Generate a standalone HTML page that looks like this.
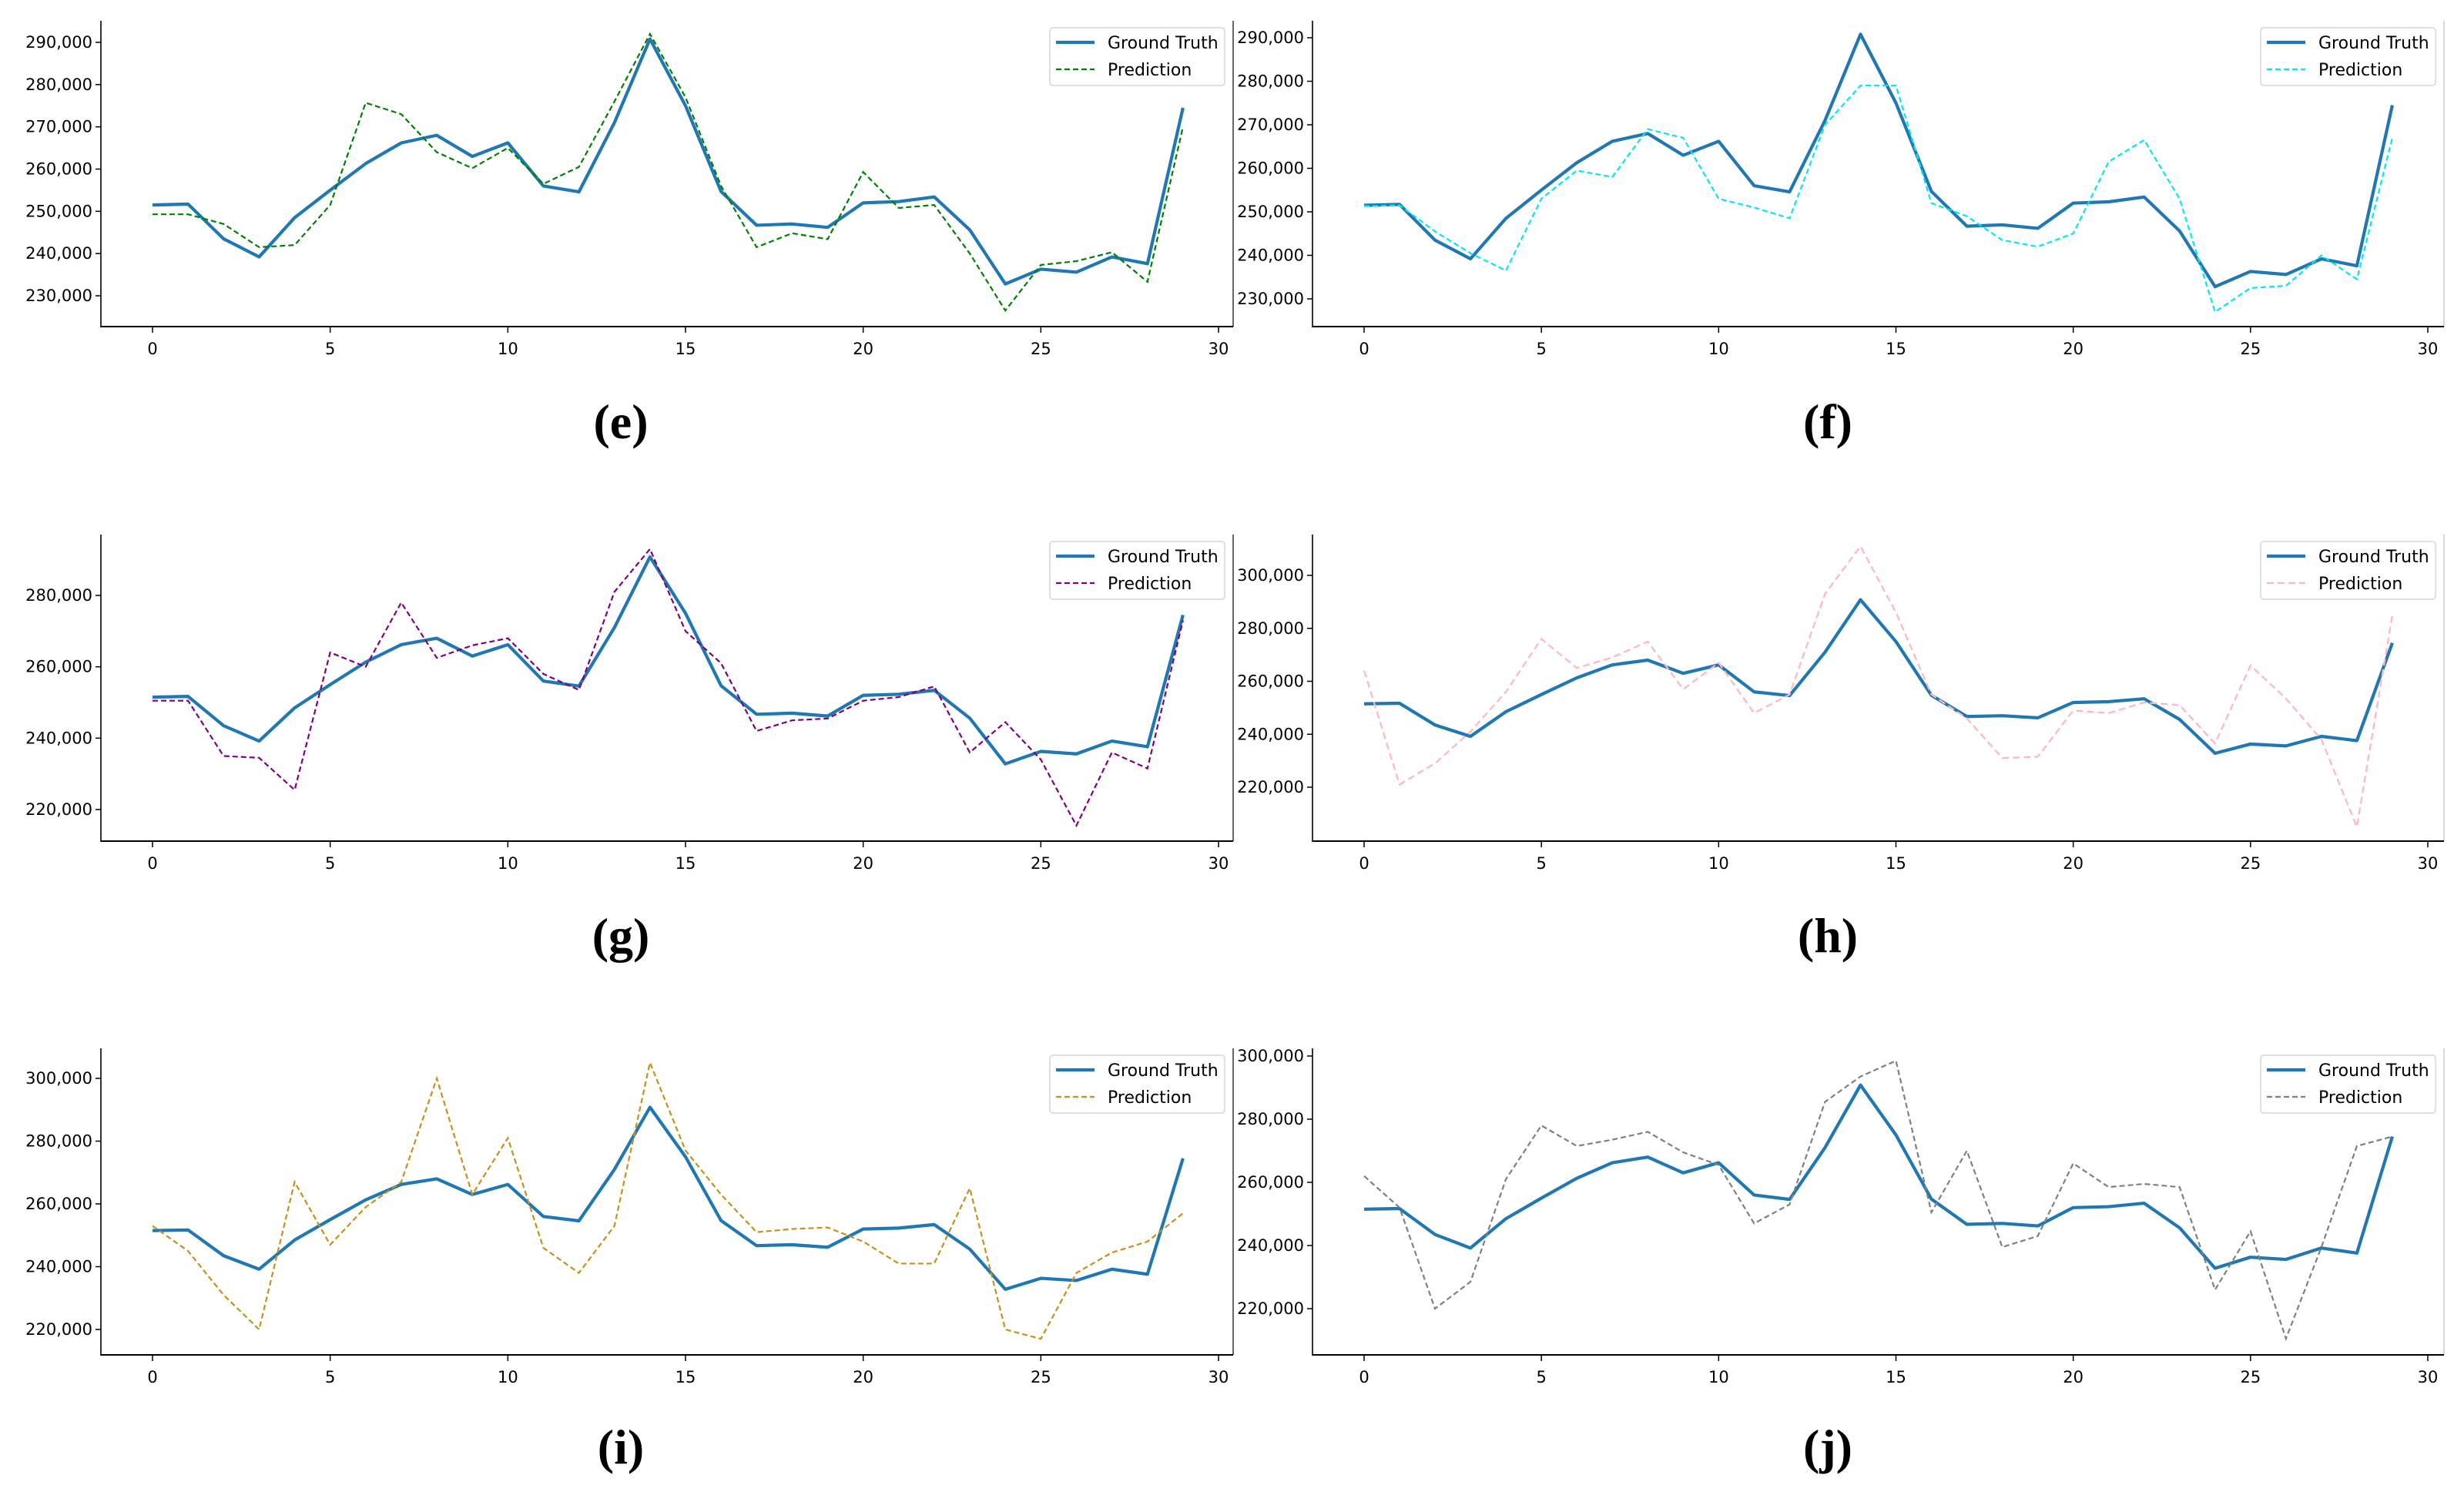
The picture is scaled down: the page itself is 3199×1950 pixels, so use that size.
<!DOCTYPE html>
<html><head><meta charset="utf-8">
<style>
html,body{margin:0;padding:0;background:#fff;}
svg{display:block;}
text{font-family:"DejaVu Sans","Liberation Sans",sans-serif;}
.lab{font-family:"Liberation Serif","DejaVu Serif",serif;font-weight:bold;font-size:64px;}
</style></head>
<body>
<svg id="chart" width="3199" height="1950" viewBox="0 0 3199 1950" xmlns="http://www.w3.org/2000/svg"></svg>
<script>
const xTicks = [0,5,10,15,20,25,30];
const groundTruth = [251.5,251.7,243.5,239.2,248.5,255,261.3,266.2,268,263,266.2,256,254.6,271,290.8,275,254.7,246.7,247,246.2,252,252.3,253.4,245.6,232.8,236.3,235.6,239.2,237.6,274.5];
const predE = [249.3,249.3,247,241.5,242,251.5,275.7,273,264,260.2,265,256.5,260.5,276,292,277,256,241.5,244.8,243.4,259.3,250.8,251.5,240,226.5,237.3,238.2,240.3,233.3,270];
const predF = [251.3,251.5,245.5,240.5,236.5,253,259.5,258,269,267,253,251,248.5,270,279,279,252,249,243.5,242,245,261.5,266.5,253,227,232.5,233,240,234.5,267];
const predG = [250.5,250.5,235,234.5,225.5,264,260,278,262.5,266,268,258,253.5,281,293,270,261,242,245,245.5,250.5,251.5,254.5,236,244.5,234,215.5,236,231.5,273];
const predH = [264,221,229,241,256,276,265,269,275,257,267,248,255,293,311,286,255,246,231,231.5,249,248,252,251,236.5,266,253.5,238,205,285];
const predI = [253,245,231,220,267,247,259,267,300,263,281,246,238,253,305,277,263,251,252,252.5,248,241,241,265,220,217,238,244.5,248,257];
const predJ = [262,252,220,228.5,261,278,271.5,273.5,276,269.5,265.5,247,253,285.5,293.5,298.5,250.5,270,239.5,243,266,258.5,259.5,258.5,226,244.5,210.5,239.5,271.5,274.5];
const ticksE = [230,240,250,260,270,280,290];
const ticksF = [230,240,250,260,270,280,290];
const ticksG = [220,240,260,280];
const ticksH = [220,240,260,280,300];
const ticksI = [220,240,260,280,300];
const ticksJ = [220,240,260,280,300];

const NS="http://www.w3.org/2000/svg";
const svg=document.getElementById('chart');
function mk(tag,attrs,parent){const e=document.createElementNS(NS,tag);for(const k in attrs)e.setAttribute(k,attrs[k]);(parent||svg).appendChild(e);return e;}

const panels=[
 {id:'e',pred:predE,ticks:ticksE,color:'#008000',dash:'7,4',col:0,row:0,t1:[290,55],t2:[230,384]},
 {id:'f',pred:predF,ticks:ticksF,color:'#00e8f0',dash:'7,4',col:1,row:0,t1:[290,49],t2:[230,388]},
 {id:'g',pred:predG,ticks:ticksG,color:'#800080',dash:'7,4',col:0,row:1,t1:[280,773],t2:[220,1051]},
 {id:'h',pred:predH,ticks:ticksH,color:'#ffb6c1',dash:'9,5',col:1,row:1,t1:[300,747],t2:[220,1022]},
 {id:'i',pred:predI,ticks:ticksI,color:'#c8901a',dash:'7,4',col:0,row:2,t1:[300,1400],t2:[220,1726]},
 {id:'j',pred:predJ,ticks:ticksJ,color:'#808080',dash:'7,4',col:1,row:2,t1:[300,1371],t2:[220,1699]}
];
const cols=[{spine:131,x0:198,x30:1582,right:1601,rc:'#333',lg:1363,labx:806},{spine:1704,x0:1771,x30:3152,right:3173,rc:'#ccc',lg:2935,labx:2373}];
const rows=[{top:27,bot:424,lab:547},{top:694,bot:1092,lab:1214},{top:1361,bot:1759,lab:1878}];

panels.forEach(p=>{
 const c=cols[p.col], r=rows[p.row], off=r.top-27;
 const g=mk('g',{});
 
 
 const xs=v=>c.x0+(c.x30-c.x0)*v/30;
 const ys=v=>p.t1[1]+(p.t2[1]-p.t1[1])*(v-p.t1[0])/(p.t2[0]-p.t1[0]);
 const rs=mk('line',{x1:c.right,y1:r.top,x2:c.right,y2:r.bot,stroke:c.rc,'stroke-width':1.5},g);
 
 
 const ls=mk('line',{x1:c.spine,y1:r.top,x2:c.spine,y2:r.bot+1,stroke:'#000','stroke-width':1.6},g);
 
 
 const bs=mk('line',{x1:c.spine,y1:r.bot,x2:c.right,y2:r.bot,stroke:'#000','stroke-width':2},g);
 
 
 xTicks.forEach(t=>{
  const x=xs(t);
  mk('line',{x1:x,y1:r.bot,x2:x,y2:r.bot+8,stroke:'#000','stroke-width':1.5},g);
  const tx=mk('text',{x:x,y:r.bot+36,'font-size':21,'text-anchor':'middle',fill:'#000'},g);
  tx.textContent=t;
  
  
 });
 p.ticks.forEach(t=>{
  const y=ys(t);
  mk('line',{x1:c.spine-7,y1:y,x2:c.spine,y2:y,stroke:'#000','stroke-width':1.5},g);
  const tx=mk('text',{x:c.spine-11,y:y+7,'font-size':21,'text-anchor':'end',fill:'#000'},g);
  tx.textContent=(t*1000).toLocaleString('en-US');
  
  
 });
 const gt=mk('polyline',{points:groundTruth.map((v,i)=>xs(i)+','+ys(v)).join(' '),fill:'none',stroke:'#1f77b4','stroke-width':4.2,'stroke-linejoin':'round'},g);
 
 
 const pr=mk('polyline',{points:p.pred.map((v,i)=>xs(i)+','+ys(v)).join(' '),fill:'none',stroke:p.color,'stroke-width':2.2,'stroke-dasharray':p.dash},g);
 
 
 const lx=c.lg, ly=36+off;
 const lg=mk('g',{},g);
 
 
 mk('rect',{x:lx,y:ly,width:227,height:75,rx:4,fill:'#fff',stroke:'#d6d6d6','stroke-width':1.5},lg);
 mk('line',{x1:lx+8,y1:ly+19,x2:lx+58,y2:ly+19,stroke:'#1f77b4','stroke-width':4.2},lg);
 const t1=mk('text',{x:lx+75,y:ly+27,'font-size':22,fill:'#000'},lg);
 t1.textContent='Ground Truth';
 
 
 mk('line',{x1:lx+8,y1:ly+54,x2:lx+58,y2:ly+54,stroke:p.color,'stroke-width':2.2,'stroke-dasharray':p.dash},lg);
 const t2=mk('text',{x:lx+75,y:ly+62,'font-size':22,fill:'#000'},lg);
 t2.textContent='Prediction';
 
 
 const lb=mk('text',{x:c.labx,y:r.lab+22,'text-anchor':'middle',class:'lab',fill:'#000'});
 lb.textContent='('+p.id+')';
 
 
});
</script>
</body></html>
